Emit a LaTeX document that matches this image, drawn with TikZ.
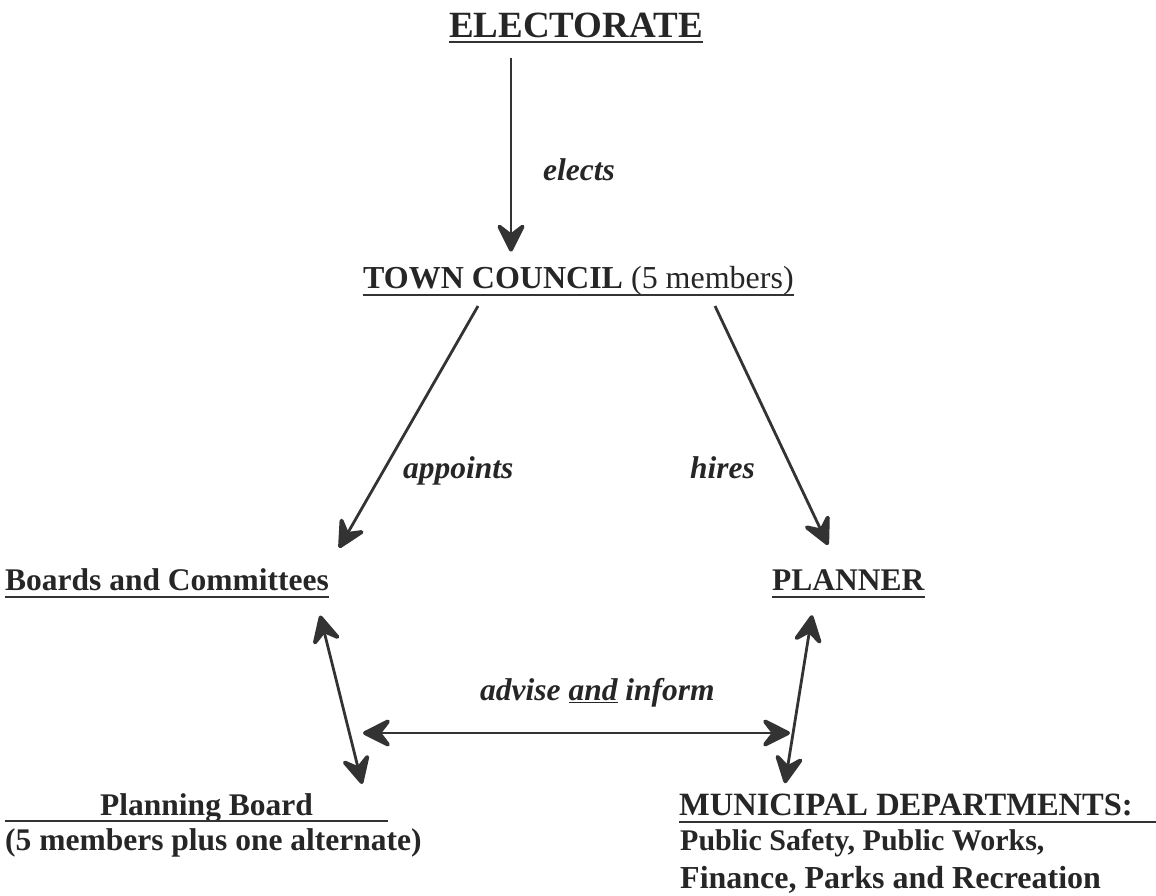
\documentclass[tikz,border=0pt]{standalone}
\usepackage{fontspec}
\setmainfont{Liberation Serif}
\usetikzlibrary{arrows.meta}

\begin{document}
\begin{tikzpicture}[x=1pt,y=-1pt,
  lbl/.style={inner sep=0pt,anchor=base west,text=black!85,font=\fontsize{31.5}{38}\selectfont\bfseries},
  rel/.style={inner sep=0pt,anchor=base west,text=black!85,font=\fontsize{31.5}{38}\selectfont\bfseries\itshape},
  arr/.style={line width=2.8pt,color=black!80,-{Stealth[length=34pt,width=34pt,inset=13pt,round,line width=4pt]}},
  biarr/.style={line width=2.8pt,color=black!80,{Stealth[length=34pt,width=34pt,inset=13pt,round,line width=4pt]}-{Stealth[length=34pt,width=34pt,inset=13pt,round,line width=4pt]}},
  uline/.style={line width=2.8pt,color=black!80}]
\useasboundingbox (0,0) rectangle (1156,895);
\node [lbl,font=\fontsize{37}{44}\selectfont\bfseries] (elec) at (449,37) {ELECTORATE};
\node [lbl,font=\fontsize{32}{38}\selectfont\bfseries] (council) at (363,288) {TOWN COUNCIL \mdseries(5 members)};
\node [lbl] (boards) at (5,590) {Boards and Committees};
\node [lbl] (planner) at (772,590) {PLANNER};
\node [lbl] (pboard) at (100,815) {Planning Board};
\node [lbl] (pbnote) at (5,850) {(5 members plus one alternate)};
\node [lbl,font=\fontsize{32.5}{38}\selectfont\bfseries] (depts) at (679,815) {MUNICIPAL DEPARTMENTS:};
\node [lbl,font=\fontsize{30}{38}\selectfont\bfseries] (dlist1) at (680,850) {Public Safety, Public Works,};
\node [lbl,font=\fontsize{32}{38}\selectfont\bfseries] (dlist2) at (680,888) {Finance, Parks and Recreation};
\node [rel] (elects) at (543,180) {elects};
\node [rel] (appoints) at (403,478) {appoints};
\node [rel] (hires) at (690,478) {hires};
\node [rel] (advise) at (480,700) {advise \underline{and} inform};
\coordinate (ll) at (363,733);
\coordinate (rr) at (790,733);

\draw [uline] ([yshift=-5pt]elec.base west) -- ([yshift=-5pt]elec.base east);
\draw [uline] ([yshift=-7pt]council.base west) -- ([yshift=-7pt]council.base east);
\draw [uline] ([yshift=-7pt]boards.base west) -- ([yshift=-7pt]boards.base east);
\draw [uline] ([yshift=-7pt]planner.base west) -- ([yshift=-7pt]planner.base east);
\draw [uline] ([xshift=-95pt,yshift=-6pt]pboard.base west) -- ([xshift=75pt,yshift=-6pt]pboard.base east);
\draw [uline] ([yshift=-7pt]depts.base west) -- ([xshift=30pt,yshift=-7pt]depts.base east);

\draw [arr] ([xshift=62pt,yshift=-20pt]elec.south west) -- ([xshift=148pt,yshift=14pt]council.north west);
\draw [arr] ([xshift=115pt,yshift=-11pt]council.south west) -- ([xshift=10pt,yshift=20pt]boards.north east);
\draw [arr] ([xshift=352pt,yshift=-11pt]council.south west) -- ([xshift=56pt,yshift=24pt]planner.north west);
\draw [biarr] ([xshift=-9pt,yshift=-25pt]boards.south east) -- ([xshift=49pt,yshift=9pt]pboard.north east);
\draw [biarr] ([xshift=40pt,yshift=-25pt]planner.south west) -- ([xshift=106pt,yshift=10pt]depts.north west);
\draw [biarr,line width=2.2pt] (ll) -- (rr);
\end{tikzpicture}
\end{document}
